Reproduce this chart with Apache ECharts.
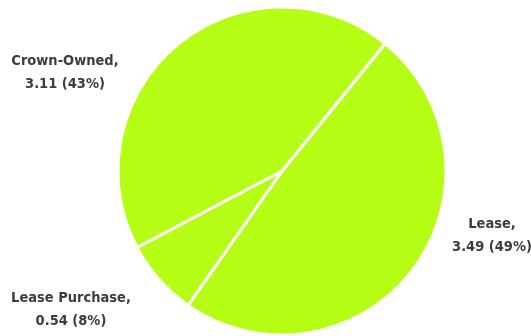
<!DOCTYPE html>
<html>
<head>
<meta charset="utf-8">
<script src="https://cdn.jsdelivr.net/npm/echarts@6/dist/echarts.min.js"></script>
<style>
  html, body { margin: 0; padding: 0; background: #fff; }
  #chart { width: 531px; height: 336px; }
</style>
</head>
<body>
<div id="chart"></div>
<script>
// Tenure categories and their values
const categories = ['Lease', 'Lease Purchase', 'Crown-Owned'];
const values = [3.49, 0.54, 3.11];

// Where each label sits (centre x, first-line y)
const labelSpots = {
  'Lease': [492, 225],
  'Lease Purchase': [71, 299],
  'Crown-Owned': [65, 62]
};

const chart = echarts.init(document.getElementById('chart'));
chart.setOption({
  animation: false,
  series: [{
    type: 'pie',
    center: [282, 171],
    radius: 164,
    startAngle: 51,
    clockwise: true,
    percentPrecision: 0,
    data: categories.map((name, i) => ({ name: name, value: values[i] })),
    itemStyle: { color: '#b6fd16', borderColor: '#ffffff', borderWidth: 3 },
    label: {
      show: true,
      position: 'outside',
      formatter: '{b},\n{c} ({d}%)',
      fontFamily: '"DejaVu Sans Condensed", "DejaVu Sans", sans-serif',
      fontWeight: 'bold',
      fontSize: 14.5,
      lineHeight: 23,
      color: '#3c3c3c',
      align: 'center',
      overflow: 'none',
      width: 200
    },
    labelLine: { show: false },
    emphasis: { disabled: true }
  }]
});
chart.setOption({
  series: [{
    labelLayout: function (params) {
      const spot = labelSpots[categories[params.dataIndex]];
      return {
        x: spot[0],
        y: spot[1] + 11,
        align: 'center',
        verticalAlign: 'middle',
        hideOverlap: false,
        moveOverlap: null
      };
    }
  }]
});
</script>
</body>
</html>
